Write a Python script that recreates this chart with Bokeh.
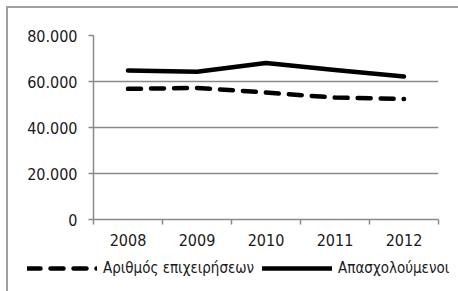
from bokeh.plotting import figure
from bokeh.layouts import column
from bokeh.models import Legend, LegendItem, FixedTicker, Range1d
from bokeh.embed import file_html
from bokeh.resources import INLINE

years = ["2008", "2009", "2010", "2011", "2012"]
businesses = [56800, 57200, 55200, 53000, 52400]   # Αριθμός επιχειρήσεων
employed = [64800, 64200, 68000, 65000, 62200]     # Απασχολούμενοι
y_ticks = [0, 20000, 40000, 60000, 80000]
y_tick_labels = ["0", "20.000", "40.000", "60.000", "80.000"]
label_businesses = "Αριθμός επιχειρήσεων"
label_employed = "Απασχολούμενοι"

FONT = "DejaVu Sans Condensed"
FSIZE = "16px"
GRAY = "#8a8a8a"
BORDER = "2px solid #a0a0a0"

xpos = [i + 1 for i in range(len(years))]
bounds = [i + 0.5 for i in range(len(years) + 1)]

p = figure(width=450, height=250, x_range=Range1d(0.5, len(years) + 0.5),
           y_range=Range1d(0, 80000), output_backend="svg", toolbar_location=None,
           min_border_left=85, min_border_right=20, min_border_top=27, min_border_bottom=39)
p.outline_line_color = None
p.background_fill_color = "white"
p.border_fill_color = "white"

line_styles = [dict(line_color="black", line_width=4.5, line_dash="13 10", line_cap="round"),
               dict(line_color="black", line_width=4.5, line_cap="round", line_join="round")]

p.line(xpos, businesses, **line_styles[0])
p.line(xpos, employed, **line_styles[1])

p.yaxis.ticker = FixedTicker(ticks=y_ticks)
p.yaxis.major_label_overrides = dict(zip(y_ticks, y_tick_labels))
p.xaxis.ticker = FixedTicker(ticks=xpos, minor_ticks=bounds)
p.xaxis.major_label_overrides = dict(zip(xpos, years))
p.xgrid.grid_line_color = None
p.ygrid.grid_line_color = GRAY
p.ygrid.grid_line_width = 1.5
for ax in (p.xaxis[0], p.yaxis[0]):
    ax.axis_line_color = GRAY
    ax.axis_line_width = 1.5
    ax.major_tick_line_color = GRAY
    ax.major_tick_line_width = 1.5
    ax.major_tick_out = 5
    ax.major_tick_in = 0
    ax.major_label_text_font = FONT
    ax.major_label_text_font_size = FSIZE
    ax.major_label_text_color = "#1a1a1a"
p.yaxis.minor_tick_line_color = None
p.xaxis.major_tick_line_color = None
p.xaxis.minor_tick_line_color = GRAY
p.xaxis.minor_tick_line_width = 1.5
p.xaxis.minor_tick_out = 5
p.xaxis.minor_tick_in = 0
p.yaxis.major_label_standoff = 11
p.xaxis.major_label_standoff = 9

# legend strip below the chart (separate root so its frame is not aligned with the chart's)
q = figure(width=450, height=33, x_range=Range1d(0, 1), y_range=Range1d(0, 1),
           x_axis_location=None, y_axis_location=None,
           output_backend="svg", toolbar_location=None, min_border=0,
           min_border_left=0, min_border_right=0, min_border_top=0, min_border_bottom=0)
q.grid.visible = False
q.outline_line_color = None
l1 = q.line(xpos, businesses, **line_styles[0])
l2 = q.line(xpos, employed, **line_styles[1])
legend = Legend(items=[LegendItem(label=label_businesses, renderers=[l1]),
                       LegendItem(label=label_employed, renderers=[l2])],
                orientation="horizontal", location=(19, 13),
                glyph_width=70, glyph_height=20, label_standoff=6, spacing=8,
                padding=0, margin=0, border_line_color=None, background_fill_alpha=0,
                label_text_font=FONT, label_text_font_size="15px", label_text_color="#1a1a1a")
q.add_layout(legend, "center")

top = column(p, margin=(6, 0, 0, 6), styles={"border-left": BORDER, "border-top": BORDER})
bottom = column(q, margin=(0, 0, 0, 6), styles={"border-left": BORDER})

open("out.html", "w").write(file_html([top, bottom], INLINE))
